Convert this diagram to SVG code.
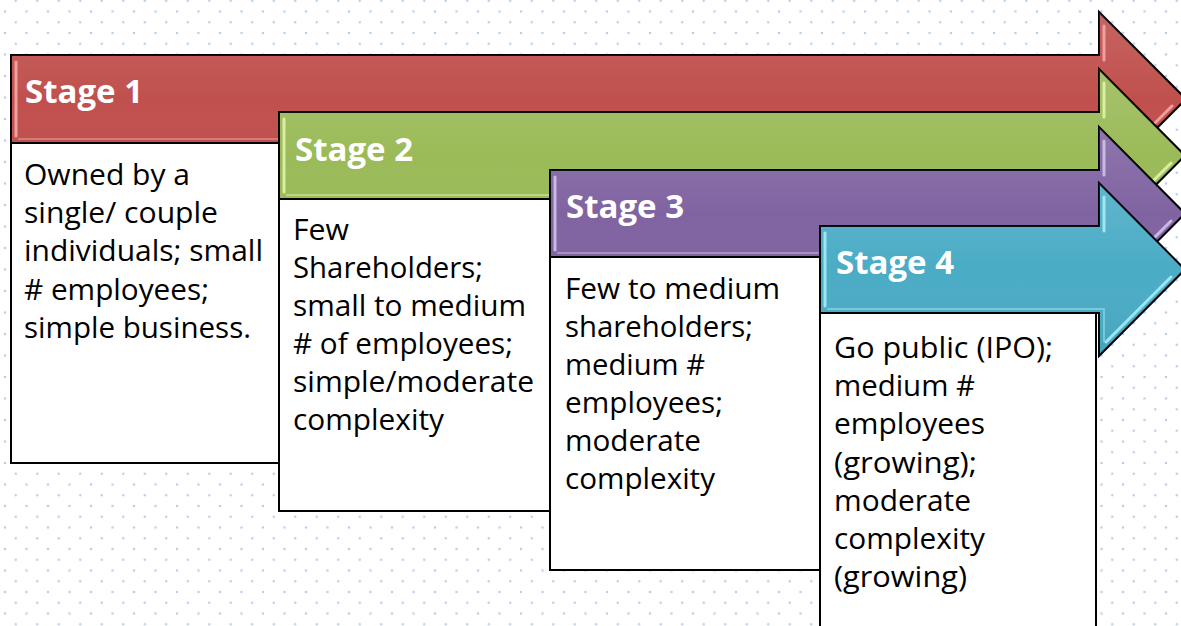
<svg xmlns="http://www.w3.org/2000/svg" width="1181" height="626" viewBox="0 0 1181 626">
<defs>
<pattern id="dots" x="5" y="11.5" width="21.5" height="21.5" patternUnits="userSpaceOnUse">
<circle cx="0" cy="0" r="1.3" fill="#b9cdee"/>
<circle cx="21.5" cy="0" r="1.3" fill="#b9cdee"/>
<circle cx="0" cy="21.5" r="1.3" fill="#b9cdee"/>
<circle cx="21.5" cy="21.5" r="1.3" fill="#b9cdee"/>
<circle cx="10.75" cy="10.75" r="1.3" fill="#b9cdee"/>
</pattern>
<linearGradient id="shade" x1="0" y1="0" x2="0" y2="1">
<stop offset="0" stop-color="#ffffff" stop-opacity="0.12"/>
<stop offset="0.5" stop-color="#ffffff" stop-opacity="0"/>
<stop offset="1" stop-color="#000000" stop-opacity="0.06"/>
</linearGradient>
</defs>
<style>
.arrow{stroke:#000;stroke-width:2;stroke-linejoin:miter}
.box{fill:#fff;stroke:#000;stroke-width:2}
.hl{fill:none;stroke-width:3;stroke-linecap:round;opacity:0.85}
.hb{fill:none;stroke-width:2;opacity:0.45}
.stage{font-family:"Open Sans","Liberation Sans",sans-serif;font-weight:bold;font-size:33px;fill:#fff}
.body{font-family:"Open Sans","Liberation Sans",sans-serif;font-size:30px;fill:#000}
</style>
<rect width="1181" height="626" fill="#fff"/>
<rect width="1181" height="626" fill="url(#dots)"/>

<g id="stage1">
<path class="arrow" fill="#c0504d" d="M11,55 H1099 V12 L1186,99 L1099,186 V143 H11 Z"/>
<path fill="url(#shade)" d="M11,55 H1099 V12 L1186,99 L1099,186 V143 H11 Z"/>
<path class="hb" stroke="#f4aeac" d="M18,139 H1104 V172"/>
<path class="hl" stroke="#f4aeac" d="M16,62 V136 M1106,172 L1172,106 M1104,26 V60"/>
<text class="stage" x="25" y="103" textLength="118" lengthAdjust="spacingAndGlyphs">Stage 1</text>
</g>
<g id="box1">
<rect class="box" x="11" y="143" width="268" height="320"/>
<text class="body">
<tspan x="24" y="185" textLength="166" lengthAdjust="spacingAndGlyphs">Owned by a</tspan>
<tspan x="24" y="223" textLength="194" lengthAdjust="spacingAndGlyphs">single/ couple</tspan>
<tspan x="24" y="261" textLength="239" lengthAdjust="spacingAndGlyphs">individuals; small</tspan>
<tspan x="24" y="300" textLength="185" lengthAdjust="spacingAndGlyphs"># employees;</tspan>
<tspan x="24" y="338" textLength="227" lengthAdjust="spacingAndGlyphs">simple business.</tspan>
</text>
</g>

<g id="stage2">
<path class="arrow" fill="#9bbb59" d="M279,112 H1099 V69 L1185,155.5 L1099,242 V199 H279 Z"/>
<path fill="url(#shade)" d="M279,112 H1099 V69 L1185,155.5 L1099,242 V199 H279 Z"/>
<path class="hb" stroke="#e4f7ae" d="M286,195 H1104 V228"/>
<path class="hl" stroke="#e4f7ae" d="M284,119 V192 M1106,228 L1171,163 M1104,83 V117"/>
<text class="stage" x="295" y="161" textLength="118" lengthAdjust="spacingAndGlyphs">Stage 2</text>
</g>
<g id="box2">
<rect class="box" x="279" y="199" width="271" height="312"/>
<text class="body">
<tspan x="293" y="240" textLength="56" lengthAdjust="spacingAndGlyphs">Few</tspan>
<tspan x="293" y="278" textLength="190" lengthAdjust="spacingAndGlyphs">Shareholders;</tspan>
<tspan x="293" y="316" textLength="233" lengthAdjust="spacingAndGlyphs">small to medium</tspan>
<tspan x="293" y="354" textLength="220" lengthAdjust="spacingAndGlyphs"># of employees;</tspan>
<tspan x="293" y="392" textLength="241" lengthAdjust="spacingAndGlyphs">simple/moderate</tspan>
<tspan x="293" y="430" textLength="151" lengthAdjust="spacingAndGlyphs">complexity</tspan>
</text>
</g>

<g id="stage3">
<path class="arrow" fill="#8064a2" d="M550,170 H1099 V127 L1185,213.5 L1099,300 V257 H550 Z"/>
<path fill="url(#shade)" d="M550,170 H1099 V127 L1185,213.5 L1099,300 V257 H550 Z"/>
<path class="hb" stroke="#d6c6f0" d="M557,253 H1104 V286"/>
<path class="hl" stroke="#d6c6f0" d="M555,177 V250 M1106,286 L1171,221 M1104,141 V175"/>
<text class="stage" x="566" y="218" textLength="118" lengthAdjust="spacingAndGlyphs">Stage 3</text>
</g>
<g id="box3">
<rect class="box" x="550" y="257" width="270" height="313"/>
<text class="body">
<tspan x="565" y="299" textLength="215" lengthAdjust="spacingAndGlyphs">Few to medium</tspan>
<tspan x="565" y="337" textLength="188" lengthAdjust="spacingAndGlyphs">shareholders;</tspan>
<tspan x="565" y="375" textLength="140" lengthAdjust="spacingAndGlyphs">medium #</tspan>
<tspan x="565" y="413" textLength="158" lengthAdjust="spacingAndGlyphs">employees;</tspan>
<tspan x="565" y="451" textLength="136" lengthAdjust="spacingAndGlyphs">moderate</tspan>
<tspan x="565" y="489" textLength="150" lengthAdjust="spacingAndGlyphs">complexity</tspan>
</text>
</g>

<g id="stage4">
<path class="arrow" fill="#4bacc6" d="M820,226 H1099 V183 L1185,269.5 L1099,356 V313 H820 Z"/>
<path fill="url(#shade)" d="M820,226 H1099 V183 L1185,269.5 L1099,356 V313 H820 Z"/>
<path class="hb" stroke="#aaf0fb" d="M827,309 H1104 V342"/>
<path class="hl" stroke="#aaf0fb" d="M825,233 V306 M1106,342 L1171,277 M1104,197 V231"/>
<text class="stage" x="836" y="274" textLength="118" lengthAdjust="spacingAndGlyphs">Stage 4</text>
</g>
<g id="box4">
<rect class="box" x="820" y="313" width="276" height="340"/>
<text class="body">
<tspan x="834" y="358" textLength="219" lengthAdjust="spacingAndGlyphs">Go public (IPO);</tspan>
<tspan x="834" y="396" textLength="141" lengthAdjust="spacingAndGlyphs">medium #</tspan>
<tspan x="834" y="434" textLength="151" lengthAdjust="spacingAndGlyphs">employees</tspan>
<tspan x="834" y="473" textLength="143" lengthAdjust="spacingAndGlyphs">(growing);</tspan>
<tspan x="834" y="511" textLength="137" lengthAdjust="spacingAndGlyphs">moderate</tspan>
<tspan x="834" y="549" textLength="151" lengthAdjust="spacingAndGlyphs">complexity</tspan>
<tspan x="834" y="587" textLength="133" lengthAdjust="spacingAndGlyphs">(growing)</tspan>
</text>
</g>
<g id="connectors"/>
</svg>
